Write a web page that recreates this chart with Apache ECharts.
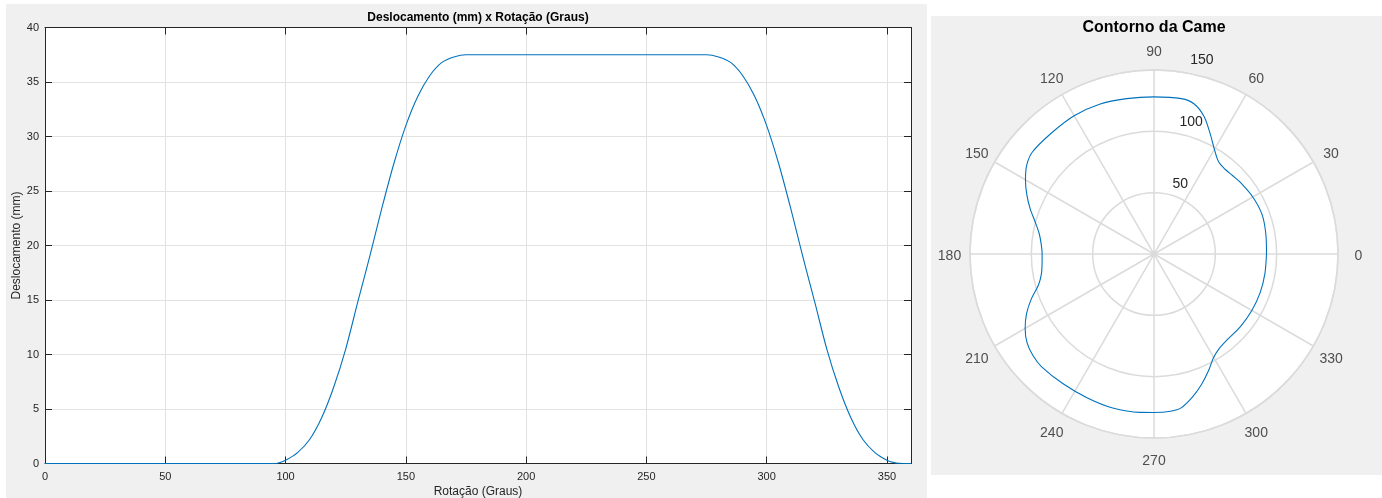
<!DOCTYPE html>
<html>
<head>
<meta charset="utf-8">
<script src="https://cdn.jsdelivr.net/npm/echarts@6/dist/echarts.min.js"></script>
<style>
html,body{margin:0;padding:0;background:#fff;}
#wrap{position:relative;width:1382px;height:498px;overflow:hidden;}
.panel{position:absolute;background:#f0f0f0;}
#c{position:absolute;left:0;top:0;width:1382px;height:498px;}
</style>
</head>
<body>
<div id="wrap">
  <div class="panel" style="left:6px;top:4px;width:921px;height:494px;"></div>
  <div class="panel" style="left:931px;top:16px;width:451px;height:459px;"></div>
  <div id="c"></div>
</div>
<script>
// ---- Data: displacement vs rotation ----
const rotacao = [0, 95, 97, 100, 105, 110, 115, 120, 125, 130, 135, 140, 145, 150, 155, 160, 165, 170, 175, 180,
                 270, 275, 280, 285, 290, 295, 300, 305, 310, 315, 320, 325, 330, 335, 340, 345, 350, 353, 355, 360];
const deslocamento = [0, 0, 0.05, 0.3, 1.0, 2.2, 4.2, 7.0, 10.5, 14.8, 19.0, 23.4, 27.5, 31.0, 33.7, 35.6, 36.8, 37.3, 37.5, 37.5,
                      37.5, 37.5, 37.3, 36.8, 35.6, 33.7, 31.0, 27.5, 23.4, 19.0, 14.8, 10.5, 7.0, 4.2, 2.2, 1.0, 0.3, 0.08, 0.02, 0];

// ---- Data: cam contour (polar) ----
const camAngulo = [0, 10, 20, 30, 40, 45, 50, 55, 60, 65, 70, 75, 80, 90, 100, 110, 120, 130, 140, 145,
                   150, 155, 160, 165, 170, 175, 180, 185, 190, 195, 200, 205, 210, 215, 220, 225, 235, 245, 255, 265,
                   270, 276, 280, 285, 290, 295, 300, 305, 310, 320, 330, 340, 350, 360];
const camRaio = [91.7, 92.6, 93.8, 93.0, 91.4, 90.5, 90.2, 91.8, 98.5, 108.3, 119.3, 126.6, 128.6, 128.1, 128.6, 130.0, 130.2, 129.3, 129.4, 126.6,
                 121.0, 114.4, 107.4, 100.2, 95.0, 92.3, 91.2, 91.6, 93.2, 97.5, 106.3, 114.6, 121.3, 126.3, 128.8, 129.8, 129.2, 129.3, 130.0, 129.6,
                 129.2, 128.9, 127.4, 120.8, 113.2, 105.1, 97.3, 93.4, 92.0, 92.0, 92.1, 92.1, 91.8, 91.7];

// ---- Tick labels ----
const rotulosAngulo = [0, 30, 60, 90, 120, 150, 180, 210, 240, 270, 300, 330];

const tituloDesl = 'Deslocamento (mm) x Rotação (Graus)';
const tituloCame = 'Contorno da Came';
const nomeX = 'Rotação (Graus)';
const nomeY = 'Deslocamento (mm)';

const FONT = '"Liberation Sans", Arial, Helvetica, sans-serif';
const AX = '#262626';
const GRID = '#e2e2e2';
const PGRID = '#dbdbdb';
const LINE = '#0072BD';

const chart = echarts.init(document.getElementById('c'), null, {renderer: 'canvas'});

const hiddenLabel = {show: false};
const CENTER = [1154, 254];
const option = {
  animation: false,
  backgroundColor: 'transparent',
  textStyle: {fontFamily: FONT},
  graphic: [
    {type: 'text', x: 478, y: 18, style: {text: tituloDesl, align: 'center', verticalAlign: 'middle',
      font: 'bold 12px ' + FONT, fill: '#000'}},
    {type: 'text', x: 1154, y: 28, style: {text: tituloCame, align: 'center', verticalAlign: 'middle',
      font: 'bold 16px ' + FONT, fill: '#000'}}
  ],
  grid: [{left: 45, top: 27.5, width: 866, height: 436, show: true, backgroundColor: '#fff', borderWidth: 0,
          outerBoundsMode: 'none', containLabel: false}],
  xAxis: [
    {gridIndex: 0, type: 'value', min: 0, max: 360, interval: 50, position: 'bottom',
     axisLine: {show: true, onZero: false, lineStyle: {color: AX, width: 1}},
     axisTick: {show: true, inside: true, length: 7, lineStyle: {color: AX}},
     axisLabel: {margin: 8, color: AX, fontSize: 11, showMaxLabel: false},
     splitLine: {show: true, lineStyle: {color: GRID, width: 1}},
     name: nomeX, nameLocation: 'middle', nameGap: 22, nameMoveOverlap: false,
     nameTextStyle: {fontSize: 12, color: AX}},
    {gridIndex: 0, type: 'value', min: 0, max: 360, interval: 50, position: 'top',
     axisLine: {show: true, onZero: false, lineStyle: {color: AX, width: 1}},
     axisTick: {show: true, inside: true, length: 7, lineStyle: {color: AX}},
     axisLabel: hiddenLabel, splitLine: {show: false}}
  ],
  yAxis: [
    {gridIndex: 0, type: 'value', min: 0, max: 40, interval: 5, position: 'left',
     axisLine: {show: true, onZero: false, lineStyle: {color: AX, width: 1}},
     axisTick: {show: true, inside: true, length: 7, lineStyle: {color: AX}},
     axisLabel: {margin: 6, color: AX, fontSize: 11},
     splitLine: {show: true, lineStyle: {color: GRID, width: 1}},
     name: nomeY, nameLocation: 'middle', nameGap: 22, nameRotate: 90, nameMoveOverlap: false,
     nameTextStyle: {fontSize: 12, color: AX}},
    {gridIndex: 0, type: 'value', min: 0, max: 40, interval: 5, position: 'right',
     axisLine: {show: true, onZero: false, lineStyle: {color: AX, width: 1}},
     axisTick: {show: true, inside: true, length: 7, lineStyle: {color: AX}},
     axisLabel: hiddenLabel, splitLine: {show: false}}
  ],
  polar: [
    {center: CENTER, radius: 184},                 // white disc
    {center: CENTER, radius: 184},                 // grid lines + curve
    {center: [1167.4, 256.4], radius: [11, 199]},  // radial tick labels (MATLAB places them beside the 80° spoke)
    {center: [1154, 256.5], radius: 204.5}         // angular tick labels
  ],
  angleAxis: [
    {polarIndex: 0, type: 'value', min: 0, max: 360, interval: 30, startAngle: 0, clockwise: false, z: -2,
     axisLine: {show: false}, axisTick: {show: false}, axisLabel: {show: false}, splitLine: {show: false},
     splitArea: {show: true, areaStyle: {color: ['#ffffff']}}},
    {polarIndex: 1, type: 'value', min: 0, max: 360, interval: 30, startAngle: 0, clockwise: false, z: 1,
     axisLine: {show: true, lineStyle: {color: PGRID, width: 1.5}},
     axisTick: {show: false}, axisLabel: {show: false},
     splitLine: {show: true, lineStyle: {color: PGRID, width: 1.5}},
     splitArea: {show: false}},
    {polarIndex: 2, type: 'value', min: 0, max: 360, startAngle: 80, clockwise: false, show: false},
    {polarIndex: 3, type: 'value', min: 0, max: 360, startAngle: 0, clockwise: false, show: false}
  ],
  radiusAxis: [
    {polarIndex: 0, type: 'value', min: 0, max: 150, interval: 50, show: false},
    {polarIndex: 1, type: 'value', min: 0, max: 150, interval: 50, z: 1,
     axisLine: {show: false}, axisTick: {show: false}, axisLabel: {show: false},
     splitLine: {show: true, lineStyle: {color: PGRID, width: 1.5}}},
    {polarIndex: 2, type: 'value', min: 0, max: 150, interval: 50,
     axisLine: {show: false}, axisTick: {show: false}, splitLine: {show: false},
     axisLabel: {show: true, showMinLabel: false, margin: 0, align: 'center', verticalAlign: 'middle',
                 fontSize: 14, color: AX}},
    {polarIndex: 3, type: 'value', min: 0, max: 1, show: false}
  ],
  series: [
    {type: 'line', xAxisIndex: 0, yAxisIndex: 0,
     data: rotacao.map(function (x, i) { return [x, deslocamento[i]]; }),
     showSymbol: false, smooth: 0.3, lineStyle: {color: LINE, width: 1.1}, z: 5},
    {type: 'line', coordinateSystem: 'polar', polarIndex: 1,
     data: camAngulo.map(function (a, i) { return [camRaio[i], a]; }),
     showSymbol: false, smooth: 0.3, lineStyle: {color: LINE, width: 1.1}, z: 5},
    {type: 'scatter', coordinateSystem: 'polar', polarIndex: 3, silent: true,
     data: rotulosAngulo.map(function (a) { return [1, a]; }),
     symbolSize: 1, itemStyle: {color: 'rgba(0,0,0,0)'},
     label: {show: true, position: 'inside', fontSize: 14, color: AX,
             formatter: function (p) { return String(p.value[1]); }}, z: 6}
  ]
};
chart.setOption(option);
</script>
</body>
</html>
